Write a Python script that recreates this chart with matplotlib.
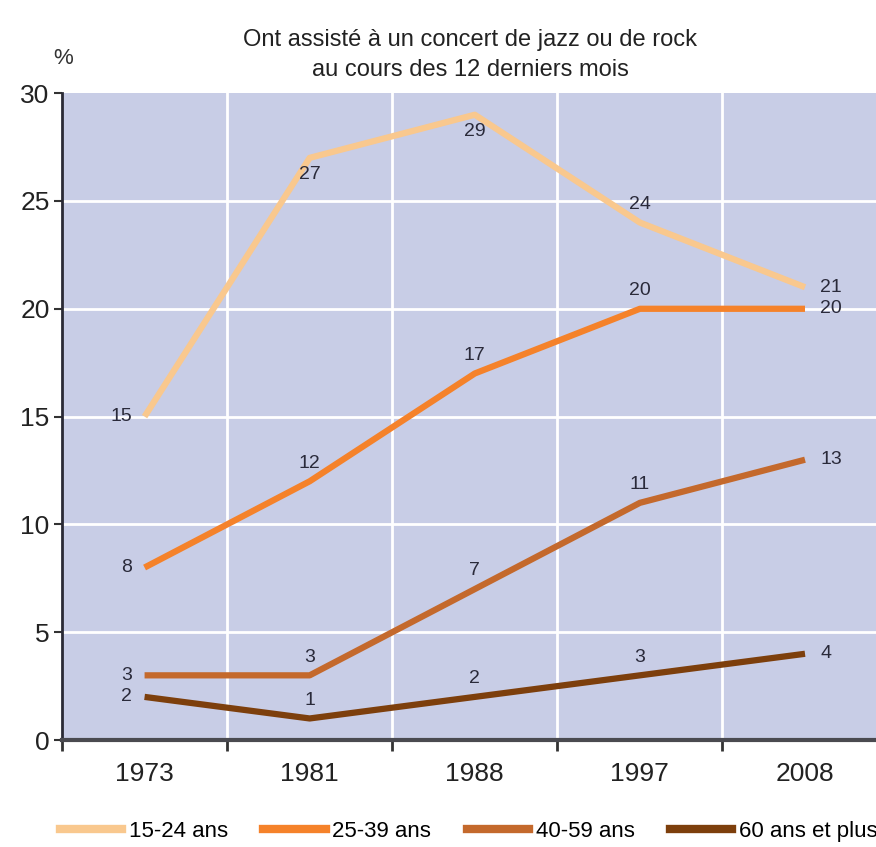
import matplotlib
matplotlib.use('Agg')
import matplotlib.pyplot as plt
from matplotlib.lines import Line2D

plt.rcParams['font.family'] = ['Liberation Sans', 'DejaVu Sans']

years = ['1973', '1981', '1988', '1997', '2008']
age_groups = ['15-24 ans', '25-39 ans', '40-59 ans', '60 ans et plus']
v_15_24 = [15, 27, 29, 24, 21]
v_25_39 = [8, 12, 17, 20, 20]
v_40_59 = [3, 3, 7, 11, 13]
v_60_plus = [2, 1, 2, 3, 4]
series = [v_15_24, v_25_39, v_40_59, v_60_plus]
colors = ['#f9c88e', '#f5822a', '#c4692c', '#7d3f0c']

# label placement per point: 'l' left, 'a' above, 'b' below, 'r' right
places = [
    ['l', 'b', 'b', 'a', 'r'],
    ['l', 'a', 'a', 'a', 'r'],
    ['l', 'a', 'a', 'a', 'r'],
    ['l', 'a', 'a', 'a', 'r'],
]
offsets = {'l': (-9, 0, 'right', 'center'), 'a': (0, 7, 'center', 'bottom'),
           'b': (0, -6, 'center', 'top'), 'r': (11, 0, 'left', 'center')}

fig = plt.figure(figsize=(8.76, 8.47), dpi=100)
ax = fig.add_axes([0.0708, 0.1263, 0.9292, 0.7637])
ax.set_facecolor('#c8cde6')

x = list(range(len(years)))
for vals, col, pl in zip(series, colors, places):
    ax.plot(x, vals, color=col, lw=4.5, solid_capstyle='butt', zorder=3)
    for xi, v, p in zip(x, vals, pl):
        dx, dy, ha, va = offsets[p]
        ax.annotate(str(v), (xi, v), xytext=(dx, dy), textcoords='offset points',
                    ha=ha, va=va, fontsize=14, color='#2a2a3a', zorder=4)

ax.set_xlim(-0.5, 4.43)
ax.set_ylim(0, 30)
for gx in [0.5, 1.5, 2.5, 3.5]:
    ax.axvline(gx, color='white', lw=2, zorder=1)
for gy in [5, 10, 15, 20, 25]:
    ax.axhline(gy, color='white', lw=2, zorder=1)

ax.set_yticks([0, 5, 10, 15, 20, 25, 30])
ax.set_xticks([-0.5, 0.5, 1.5, 2.5, 3.5])
ax.set_xticklabels([])
ax.set_xticks(x, minor=True)
ax.set_xticklabels(years, minor=True)
ax.tick_params(axis='x', which='major', length=8, width=2, color='#333333', direction='out')
ax.tick_params(axis='x', which='minor', length=0, pad=16, labelsize=19, labelcolor='#222222')
ax.tick_params(axis='y', length=6, width=1.5, color='#333333', labelsize=19, labelcolor='#222222', pad=3)

for s in ['top', 'right']:
    ax.spines[s].set_visible(False)
ax.spines['left'].set_color('#2a2a35')
ax.spines['left'].set_linewidth(2)
ax.spines['bottom'].set_color('#4a4a50')
ax.spines['bottom'].set_linewidth(3)

fig.text(0.072, 0.925, '%', fontsize=16, color='#333333', ha='center')
fig.text(0.537, 0.935, 'Ont assisté à un concert de jazz ou de rock\nau cours des 12 derniers mois',
         ha='center', va='center', fontsize=17, color='#222222', linespacing=1.5)

handles = [Line2D([0], [0], color=c, lw=6) for c in colors]
fig.legend(handles, age_groups, loc='center', bbox_to_anchor=(0.535, 0.018), ncol=4,
           frameon=False, fontsize=16, handlelength=2.8, columnspacing=1.6, handletextpad=0.3)

fig.savefig('out.png', dpi=100)
